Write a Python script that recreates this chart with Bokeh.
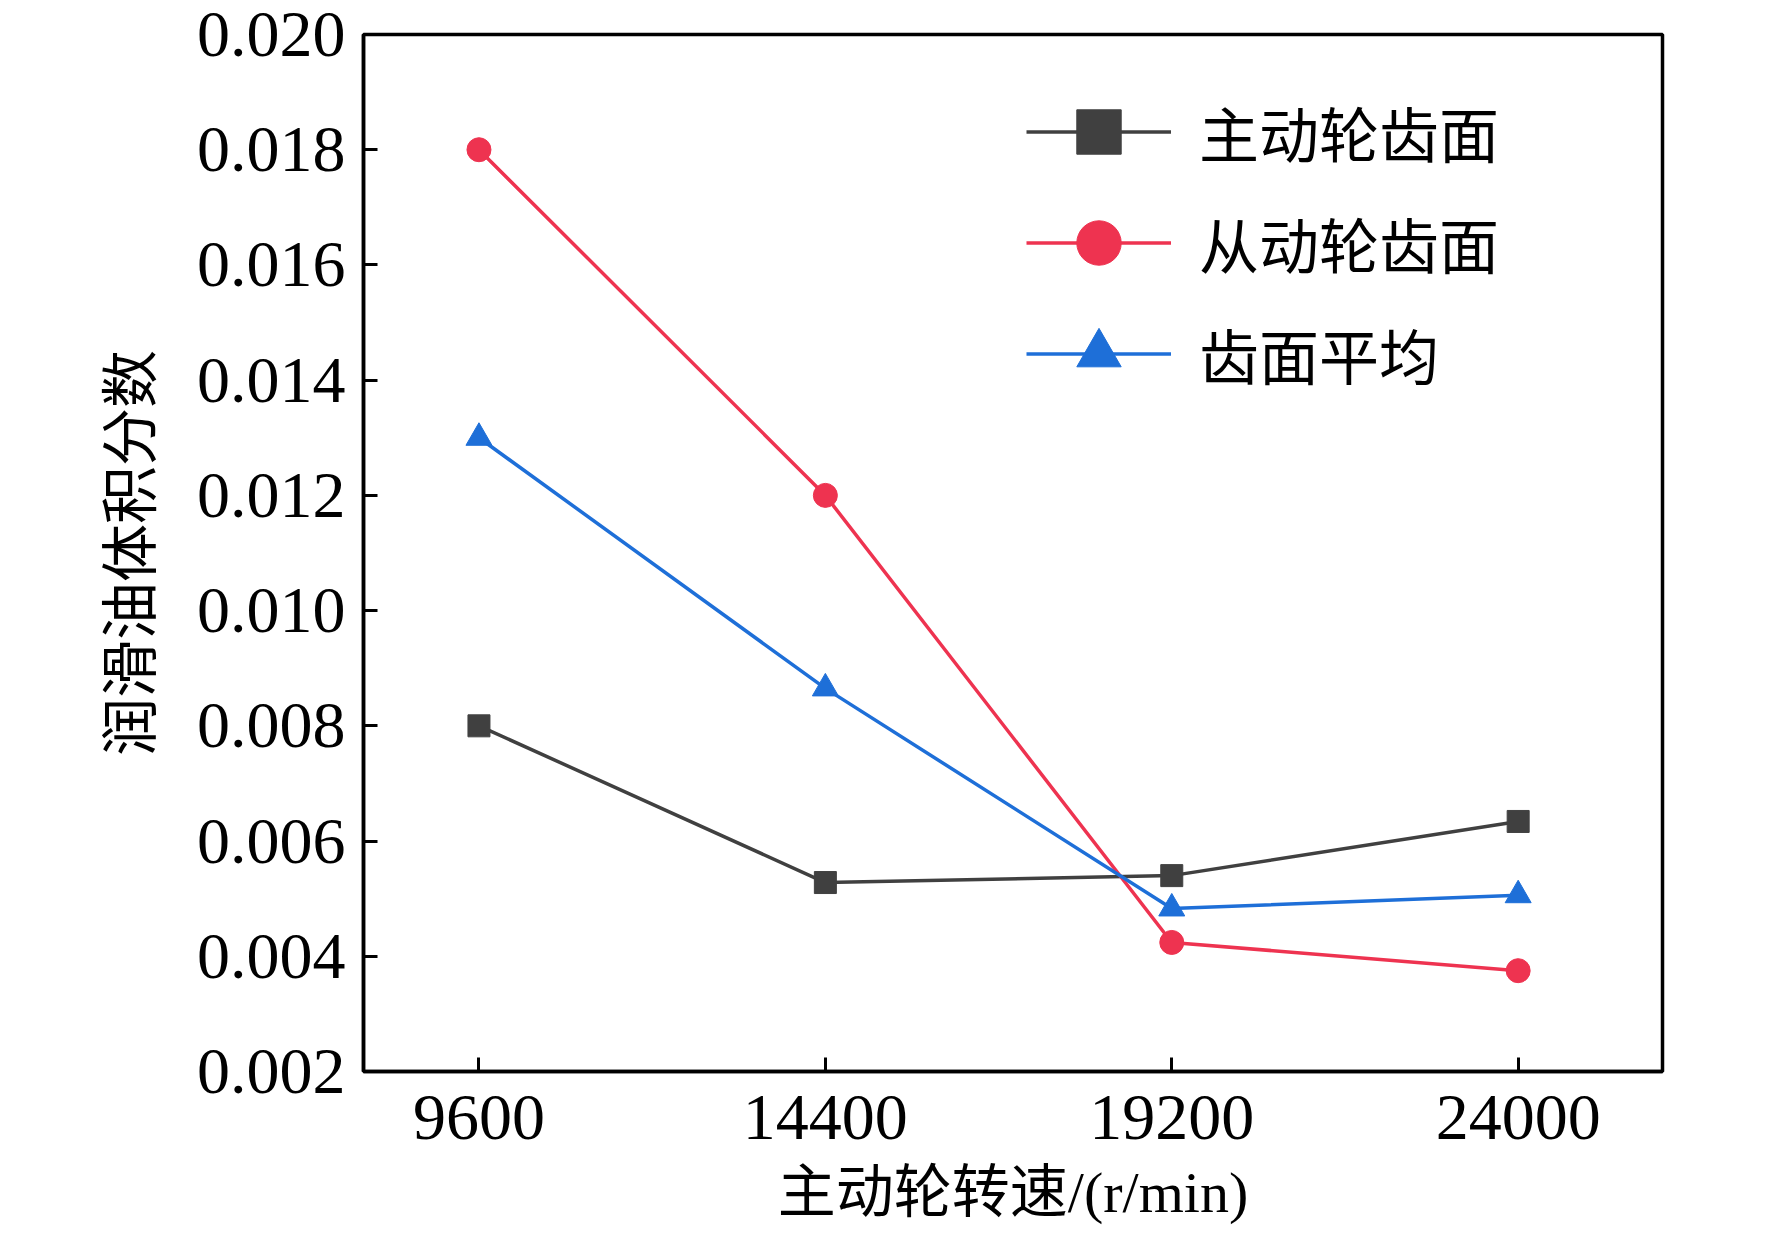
from bokeh.plotting import figure
from bokeh.models import FixedTicker, NumeralTickFormatter, Legend, LegendItem, Range1d
from bokeh.embed import file_html
from bokeh.resources import INLINE

speeds = [9600, 14400, 19200, 24000]
driving = [0.0080, 0.00528, 0.0054, 0.00634]
driven = [0.0180, 0.0120, 0.00424, 0.00375]
average = [0.0130, 0.00865, 0.00483, 0.00506]
names = ["主动轮齿面", "从动轮齿面", "齿面平均"]
yticks = [0.002, 0.004, 0.006, 0.008, 0.010, 0.012, 0.014, 0.016, 0.018, 0.020]

FONT = "Liberation Serif, Noto Sans CJK SC"
CJK = "Liberation Serif, Noto Sans CJK SC"

p = figure(width=1764, height=1248, output_backend="svg", toolbar_location=None,
           x_range=Range1d(8000, 26000), y_range=Range1d(0.002, 0.020),
           min_border_left=363, min_border_right=102, min_border_top=34, min_border_bottom=177)
p.background_fill_color = "white"
p.border_fill_color = "white"
p.grid.visible = False
p.outline_line_color = "black"
p.outline_line_width = 3.5

for ax in (p.xaxis[0], p.yaxis[0]):
    ax.axis_line_width = 3.5
    ax.major_tick_line_width = 3
    ax.major_tick_in = 14
    ax.major_tick_out = 0
    ax.minor_tick_line_color = None
    ax.major_label_text_font = FONT
    ax.major_label_text_font_size = "66px"
    ax.major_label_text_color = "black"
    ax.axis_label_text_font = CJK
    ax.axis_label_text_font_style = "normal"
    ax.axis_label_text_font_size = "58px"
    ax.axis_label_text_color = "black"

p.xaxis.ticker = FixedTicker(ticks=speeds)
p.yaxis.ticker = FixedTicker(ticks=yticks)
p.yaxis.formatter = NumeralTickFormatter(format="0.000")
p.xaxis.axis_label = "主动轮转速/(r/min)"
p.yaxis.axis_label = "润滑油体积分数"
p.xaxis.major_label_standoff = 24
p.yaxis.major_label_standoff = 18
p.xaxis.axis_label_standoff = 18
p.yaxis.axis_label_standoff = 30

colors = ["#404040", "#ee3350", "#1e6fd8"]
l1 = p.line(speeds, driving, color=colors[0], line_width=3.5)
m1 = p.scatter(speeds, driving, marker="square", size=22, color=colors[0])
l2 = p.line(speeds, driven, color=colors[1], line_width=3.5)
m2 = p.scatter(speeds, driven, marker="circle", size=24, color=colors[1])
l3 = p.line(speeds, average, color=colors[2], line_width=3.5)
m3 = p.scatter(speeds, average, marker="triangle", size=26, color=colors[2])

legend = Legend(items=[LegendItem(label=names[0], renderers=[l1, m1]),
                       LegendItem(label=names[1], renderers=[l2, m2]),
                       LegendItem(label=names[2], renderers=[l3, m3])],
                location=(663, 662), border_line_color=None, background_fill_alpha=0,
                glyph_width=145, glyph_height=111, label_height=111, spacing=0,
                padding=0, margin=0, label_standoff=28,
                label_text_font=CJK, label_text_font_size="60px", label_text_color="black")
p.add_layout(legend, "center")

open("out.html", "w").write(file_html(p, INLINE))
